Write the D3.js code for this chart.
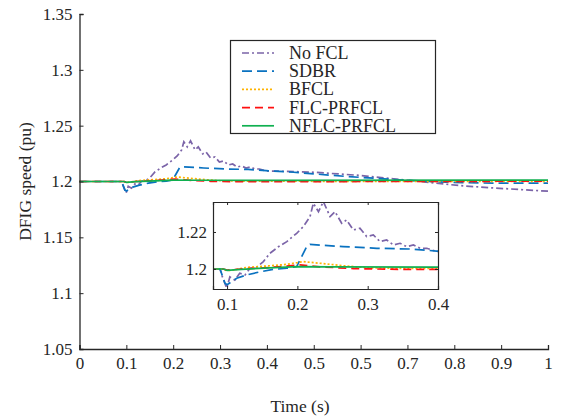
<!DOCTYPE html>
<html>
<head>
<meta charset="utf-8">
<script src="https://cdn.jsdelivr.net/npm/d3@7"></script>
<style>
  html, body { margin: 0; padding: 0; background: #fff; }
  text { font-family: "Liberation Serif", "Times New Roman", serif; fill: #262626; }
</style>
</head>
<body>
<div id="chart"></div>
<script>
// values, [time (s), speed (pu)]
const noFcl = [[0,1.2],[0.09,1.2],[0.0924,1.1968],[0.0995,1.1896],[0.104,1.1958],[0.111,1.194],
  [0.118,1.1977],[0.1255,1.1968],[0.1327,1.2004],[0.142,1.2009],[0.1516,1.204],[0.161,1.2085],
  [0.173,1.212],[0.185,1.2148],[0.199,1.2193],[0.2085,1.2229],[0.218,1.2283],[0.2227,1.2355],
  [0.23,1.231],[0.237,1.2364],[0.2465,1.2283],[0.2535,1.231],[0.263,1.2247],[0.27,1.2265],
  [0.2796,1.2211],[0.289,1.222],[0.2986,1.2175],[0.308,1.2184],[0.3176,1.2148],[0.327,1.2157],
  [0.3365,1.213],[0.346,1.2139],[0.3555,1.2121],[0.365,1.213],[0.3745,1.2112],[0.384,1.2112],
  [0.398,1.2094],[0.43,1.2092],[0.5,1.2083],[0.6,1.2054],[0.67,1.2024],[0.74,1.1994],
  [0.81,1.1964],[0.88,1.1943],[1.0,1.1913]]
const sdbr = [[0,1.2],[0.09,1.2],[0.097,1.1923],[0.1,1.1915],[0.1137,1.195],[0.128,1.1968],
  [0.147,1.1985],[0.166,1.1998],[0.185,1.2004],[0.199,1.2013],[0.2037,1.2049],[0.2133,1.2121],
  [0.218,1.2133],[0.265,1.2121],[0.313,1.2112],[0.36,1.2108],[0.398,1.2097],[0.457,1.2083],
  [0.564,1.2047],[0.67,1.2018],[0.777,1.1994],[0.883,1.1985],[1.0,1.1985]]
const bfcl = [[0,1.2],[0.095,1.2],[0.0995,1.1991],[0.11,1.1995],[0.128,1.2009],[0.1563,1.2016],
  [0.185,1.2025],[0.199,1.2034],[0.2085,1.204],[0.232,1.2031],[0.27,1.2016],[0.2986,1.2007],
  [0.35,1.2003],[0.5,1.2002],[1,1.2002]]
const flcPrfcl = [[0,1.2],[0.095,1.2],[0.1,1.1994],[0.12,1.2],[0.16,1.2008],[0.2037,1.2022],
  [0.232,1.2012],[0.28,1.2002],[0.35,1.1998],[0.5,1.1999],[1,1.2003]]
const nflcPrfcl = [[0,1.2],[0.095,1.2],[0.1,1.1993],[0.12,1.1998],[0.16,1.2006],[0.2,1.2013],
  [0.25,1.2011],[0.4,1.201],[1,1.2012]]

const seriesNames = ["No FCL", "SDBR", "BFCL", "FLC-PRFCL", "NFLC-PRFCL"]
const seriesData = [noFcl, sdbr, bfcl, flcPrfcl, nflcPrfcl]
const seriesColors = ["#7b64a8", "#0a72c0", "#ffb300", "#ff1010", "#10b050"]
const seriesDash = ["7 3 2 3", "10 5", "2 2", "8 5", null]

const xTicks = [0, 0.1, 0.2, 0.3, 0.4, 0.5, 0.6, 0.7, 0.8, 0.9, 1]
const xTickLabels = ["0", "0.1", "0.2", "0.3", "0.4", "0.5", "0.5", "0.7", "0.8", "0.9", "1"]
const yTicks = [1.05, 1.1, 1.15, 1.2, 1.25, 1.3, 1.35]
const insetXTicks = [0.1, 0.2, 0.3, 0.4]
const insetYTicks = [1.2, 1.22]

const width = 564, height = 416
const axisColor = "#262626"
const tickFont = 17

const svg = d3.select("#chart").append("svg")
  .attr("width", width).attr("height", height)

const x = d3.scaleLinear().domain([0, 1]).range([79.5, 548])
const y = d3.scaleLinear().domain([1.05, 1.35]).range([349, 14])

/* curves of the main axes */
const line = d3.line().x(d => x(d[0])).y(d => y(d[1]))
svg.append("g")
  .selectAll("path")
  .data(seriesData)
  .join("path")
  .attr("fill", "none")
  .attr("stroke", (d, i) => seriesColors[i])
  .attr("stroke-width", 1.7)
  .attr("stroke-dasharray", (d, i) => seriesDash[i])
  .attr("d", line)

/* main axes, left and bottom only, ticks inward */
const xAxis = svg.append("g")
  .attr("transform", `translate(0,${y(1.05)})`)
  .call(d3.axisBottom(x).tickValues(xTicks).tickSize(-4).tickPadding(8)
    .tickFormat((d, i) => xTickLabels[i]))
const yAxis = svg.append("g")
  .attr("transform", `translate(${x(0)},0)`)
  .call(d3.axisLeft(y).tickValues(yTicks).tickSize(-4).tickPadding(7)
    .tickFormat(d => d3.format("")(+d.toFixed(2))))
for (const ax of [xAxis, yAxis]) {
  ax.select(".domain").attr("stroke", axisColor).attr("stroke-width", 1.3)
  ax.selectAll(".tick line").attr("stroke", axisColor)
  ax.selectAll("text").attr("font-size", tickFont).attr("font-family", "Liberation Serif").attr("fill", axisColor)
}

svg.append("text")
  .attr("x", 300).attr("y", 412)
  .attr("text-anchor", "middle")
  .attr("font-size", 17.5)
  .text("Time (s)")
svg.append("text")
  .attr("transform", `translate(31,${(y(1.05) + y(1.35)) / 2}) rotate(-90)`)
  .attr("text-anchor", "middle")
  .attr("font-size", 17.5)
  .text("DFIG speed (pu)")

/* legend */
const legend = svg.append("g")
legend.append("rect")
  .attr("x", 230.5).attr("y", 40.5).attr("width", 205).attr("height", 93)
  .attr("fill", "#fff").attr("stroke", axisColor).attr("stroke-width", 1.2)
const rows = legend.selectAll("g.row")
  .data(seriesNames)
  .join("g")
  .attr("class", "row")
  .attr("transform", (d, i) => `translate(0,${53 + i * 18.2})`)
rows.append("line")
  .attr("x1", 242).attr("x2", 274)
  .attr("stroke", (d, i) => seriesColors[i])
  .attr("stroke-width", 1.7)
  .attr("stroke-dasharray", (d, i) => seriesDash[i])
rows.append("text")
  .attr("x", 289).attr("y", 6)
  .attr("font-size", 18)
  .text(d => d)

/* zoomed inset */
const ix = d3.scaleLinear().domain([0.08, 0.4]).range([213, 438])
const iy = d3.scaleLinear().domain([1.1892, 1.2362]).range([289, 202])
const inset = svg.append("g")
inset.append("rect")
  .attr("x", 213).attr("y", 202).attr("width", 225).attr("height", 87)
  .attr("fill", "#fff")
svg.append("clipPath").attr("id", "inset-clip")
  .append("rect").attr("x", 213).attr("y", 202).attr("width", 225).attr("height", 87)
const iline = d3.line().x(d => ix(d[0])).y(d => iy(d[1]))
inset.append("g")
  .attr("clip-path", "url(#inset-clip)")
  .selectAll("path")
  .data(seriesData)
  .join("path")
  .attr("fill", "none")
  .attr("stroke", (d, i) => seriesColors[i])
  .attr("stroke-width", 1.7)
  .attr("stroke-dasharray", (d, i) => seriesDash[i])
  .attr("d", iline)

const ib = inset.append("g").attr("transform", "translate(0,289)")
  .call(d3.axisBottom(ix).tickValues(insetXTicks).tickSize(-3).tickPadding(9).tickFormat(d3.format("")))
const it = inset.append("g").attr("transform", "translate(0,202)")
  .call(d3.axisTop(ix).tickValues(insetXTicks).tickSize(-3).tickFormat(""))
const il = inset.append("g").attr("transform", "translate(213,0)")
  .call(d3.axisLeft(iy).tickValues(insetYTicks).tickSize(-3).tickPadding(6).tickFormat(d3.format("")))
const ir = inset.append("g").attr("transform", "translate(438,0)")
  .call(d3.axisRight(iy).tickValues(insetYTicks).tickSize(-3).tickFormat(""))
for (const ax of [ib, it, il, ir]) {
  ax.select(".domain").attr("stroke", axisColor).attr("stroke-width", 1.2)
  ax.selectAll(".tick line").attr("stroke", axisColor)
  ax.selectAll("text").attr("font-size", tickFont).attr("font-family", "Liberation Serif").attr("fill", axisColor)
}
</script>
</body>
</html>
